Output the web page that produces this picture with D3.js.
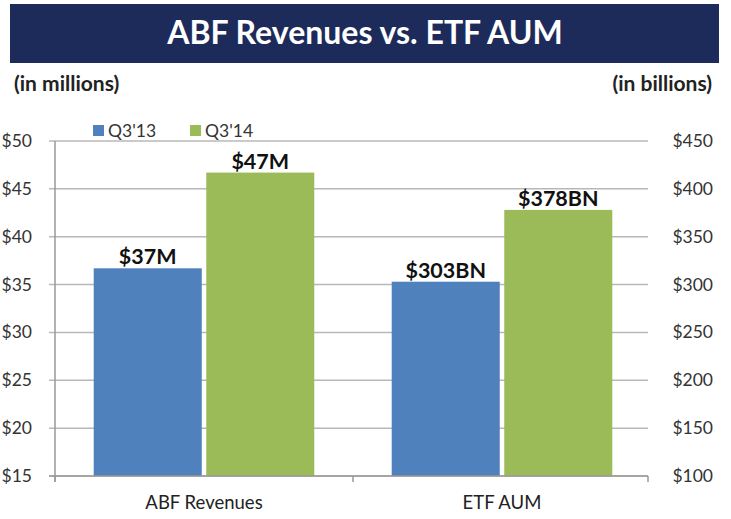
<!DOCTYPE html>
<html><head><meta charset="utf-8">
<script src="https://cdn.jsdelivr.net/npm/d3@7"></script>
<style>body{margin:0;background:#fff;}svg{display:block;font-family:Lato,"Open Sans",sans-serif;}</style>
</head><body>
<svg id="c" width="731" height="519"></svg>
<script>
const categories = ["ABF Revenues", "ETF AUM"];
const seriesNames = ["Q3'13", "Q3'14"];
const abfValues = [36.7, 46.7];      // millions, left axis
const etfValues = [303, 378];        // billions, right axis
const dataLabels = [["$37M", "$47M"], ["$303BN", "$378BN"]];
const leftTicks = [15, 20, 25, 30, 35, 40, 45, 50];
const rightTicks = [100, 150, 200, 250, 300, 350, 400, 450];
const colors = ["#4F81BD", "#9BBB59"];

(function () {
const svg = d3.select("#c");
const pTop = 141, pBottom = 476, pLeft = 55, pRight = 651;

// Banner
svg.append("rect").attr("x", 10).attr("y", 4).attr("width", 709).attr("height", 59).attr("fill", "#1d2b5b");
svg.append("text").attr("x", 365).attr("y", 44).attr("text-anchor", "middle")
  .attr("fill", "#fff").attr("font-size", 32).attr("font-weight", "bold").text("ABF Revenues vs. ETF AUM");
svg.append("text").attr("x", 14).attr("y", 91).attr("font-size", 21).attr("font-weight", "bold").attr("fill", "#222").text("(in millions)");
svg.append("text").attr("x", 712).attr("y", 91).attr("text-anchor", "end").attr("font-size", 21).attr("font-weight", "bold").attr("fill", "#222").text("(in billions)");

const yL = d3.scaleLinear().domain([15, 50]).range([pBottom, pTop]);
const yR = d3.scaleLinear().domain([100, 450]).range([pBottom, pTop]);
const x0 = d3.scaleBand().domain(categories).range([pLeft, pRight]).paddingInner(0).paddingOuter(0);
const x1 = d3.scaleBand().domain(seriesNames).range([0, x0.bandwidth()]).paddingInner(0.04).paddingOuter(0.344);

// gridlines
svg.append("g").selectAll("line").data(leftTicks).join("line")
  .attr("x1", pLeft - 6).attr("x2", pRight - 3).attr("y1", d => yL(d)).attr("y2", d => yL(d))
  .attr("stroke", "#b8b8b8").attr("stroke-width", 1.5);

// left axis labels
svg.append("g").selectAll("text").data(leftTicks).join("text")
  .attr("x", 32).attr("y", d => yL(d) + 6).attr("text-anchor", "end")
  .attr("font-size", 17.5).attr("fill", "#333").text(d => "$" + d);
// right axis labels
svg.append("g").selectAll("text").data(rightTicks).join("text")
  .attr("x", 713).attr("y", d => yR(d) + 6).attr("text-anchor", "end")
  .attr("font-size", 17.5).attr("fill", "#333").text(d => "$" + d);

// bars
const groups = [abfValues, etfValues];
const scales = [yL, yR];
categories.forEach((cat, i) => {
  const g = svg.append("g").attr("transform", `translate(${x0(cat)},0)`);
  g.selectAll("rect").data(groups[i]).join("rect")
    .attr("x", (d, j) => x1(seriesNames[j]))
    .attr("width", x1.bandwidth())
    .attr("y", d => scales[i](d))
    .attr("height", d => pBottom - scales[i](d))
    .attr("fill", (d, j) => colors[j]);
  g.selectAll("text").data(groups[i]).join("text")
    .attr("x", (d, j) => x1(seriesNames[j]) + x1.bandwidth() / 2)
    .attr("y", d => scales[i](d) - 4)
    .attr("text-anchor", "middle").attr("font-size", 21.5).attr("font-weight", "bold").attr("fill", "#111")
    .text((d, j) => dataLabels[i][j]);
});

// axes lines
svg.append("line").attr("x1", pLeft).attr("x2", pLeft).attr("y1", pTop).attr("y2", pBottom + 6).attr("stroke", "#999").attr("stroke-width", 1.5);
svg.append("line").attr("x1", pLeft - 6).attr("x2", pRight - 3).attr("y1", pBottom).attr("y2", pBottom).attr("stroke", "#999").attr("stroke-width", 1.5);
[pLeft, x0(categories[1]), pRight - 3].forEach(xv => {
  svg.append("line").attr("x1", xv).attr("x2", xv).attr("y1", pBottom).attr("y2", pBottom + 6).attr("stroke", "#999").attr("stroke-width", 1.5);
});

// x labels
svg.append("g").selectAll("text").data(categories).join("text")
  .attr("x", d => x0(d) + x0.bandwidth() / 2).attr("y", 509).attr("text-anchor", "middle")
  .attr("font-size", 18.5).attr("fill", "#222").text(d => d);

// legend
const lg = svg.append("g");
seriesNames.forEach((s, j) => {
  const lx = 93 + j * 97;
  lg.append("rect").attr("x", lx).attr("y", 125).attr("width", 11).attr("height", 11).attr("fill", colors[j]);
  lg.append("text").attr("x", lx + 15).attr("y", 137).attr("font-size", 17.5).attr("fill", "#333").text(s);
});
})();
</script>
</body></html>
